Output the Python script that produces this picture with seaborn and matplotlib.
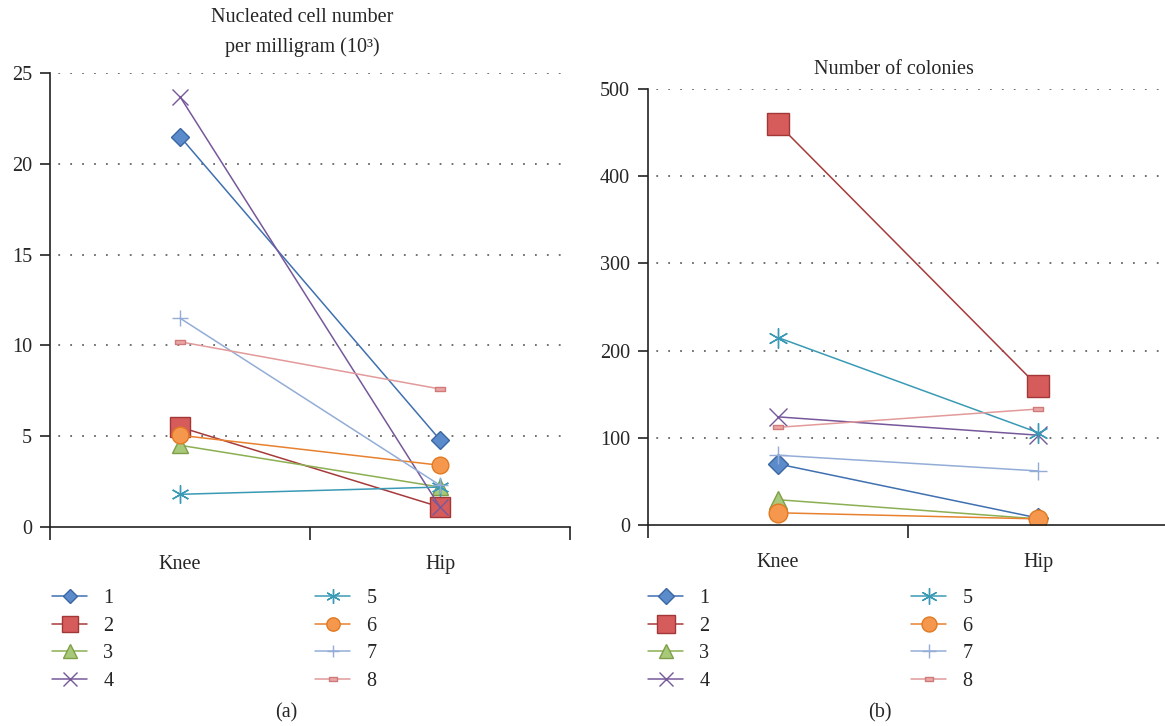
import matplotlib
matplotlib.use("Agg")
import matplotlib.pyplot as plt
import seaborn as sns
import pandas as pd
from matplotlib.path import Path

# Datos
sitios = ["Knee", "Hip"]
series = ["1", "2", "3", "4", "5", "6", "7", "8"]
celulas_knee = [21.5, 5.5, 4.5, 23.7, 1.8, 5.05, 11.5, 10.2]
celulas_hip = [4.8, 1.1, 2.2, 1.1, 2.2, 3.4, 2.3, 7.6]
colonias_knee = [70, 460, 29, 124, 215, 14, 80, 112]
colonias_hip = [8, 159, 7, 103, 106, 7, 62, 133]

# Estilo de cada serie (linea, relleno, borde, marcador, tamano)
rect = Path([(-1, -0.4), (1, -0.4), (1, 0.4), (-1, 0.4), (-1, -0.4)],
            [Path.MOVETO, Path.LINETO, Path.LINETO, Path.LINETO, Path.CLOSEPOLY])
asterisco = (6, 2, 0)
estilos = [
    ("#3F70B0", "#5B8BCB", "#3A67A3", "D", 9),
    ("#A63A3A", "#D65C5C", "#A33636", "s", 14),
    ("#8BAF52", "#A9C97A", "#7E9E48", "^", 12),
    ("#76589A", "#76589A", "#76589A", "x", 12),
    ("#3A9AB5", "#3A9AB5", "#3A9AB5", asterisco, 13),
    ("#E8812F", "#F5984E", "#E07A22", "o", 12),
    ("#93ADD6", "#93ADD6", "#93ADD6", "+", 11),
    ("#E29A9A", "#EBA6A6", "#D07A7A", rect, 7),
]

FS = 14.5
sns.set_theme(style="white")
plt.rcParams["font.family"] = ["Liberation Serif", "DejaVu Serif"]
plt.rcParams["font.size"] = FS

fig = plt.figure(figsize=(11.65, 7.26), dpi=100)
W, H = 1165, 726
ax1 = fig.add_axes([50 / W, (H - 527) / H, 520 / W, (527 - 73) / H])
ax2 = fig.add_axes([648 / W, (H - 525) / H, 520 / W, (525 - 89) / H])


def dibujar(ax, knee, hip, escala, ymax, paso):
    for i, s in enumerate(series):
        linea, relleno, borde, marcador, tam = estilos[i]
        df = pd.DataFrame({"sitio": sitios, "valor": [knee[i], hip[i]]})
        sns.lineplot(data=df, x="sitio", y="valor", ax=ax, color=linea,
                     marker=marcador, markersize=tam * escala,
                     markerfacecolor=relleno, markeredgecolor=borde,
                     markeredgewidth=1.0, linewidth=1.1, label=s,
                     legend=False, sort=False)
    ax.set_xlim(-0.5, 1.5)
    ax.set_ylim(0, ymax)
    ax.set_yticks(range(0, ymax + 1, paso))
    ax.set_xticks([-0.5, 0.5, 1.5])
    ax.set_xticklabels([])
    ax.set_xticks([0, 1], sitios, minor=True)
    ax.tick_params(axis="x", which="major", direction="out", length=9,
                   width=1.2, bottom=True, color="#222222")
    ax.tick_params(axis="x", which="minor", length=0, pad=20, labelsize=FS)
    ax.tick_params(axis="y", direction="out", length=7, width=1.2, left=True,
                   pad=6, labelsize=FS, color="#222222")
    ax.set_xlabel("")
    ax.set_ylabel("")
    for y in range(paso, ymax + 1, paso):
        ax.axhline(y, color="#666666", linewidth=1.3,
                   linestyle=(2, (1, 5.6)), zorder=0)
    sns.despine(ax=ax, top=True, right=True)
    for lado in ["left", "bottom"]:
        ax.spines[lado].set_color("#222222")
        ax.spines[lado].set_linewidth(1.2)
    ax.set_facecolor("white")


dibujar(ax1, celulas_knee, celulas_hip, 1.0, 25, 5)
dibujar(ax2, colonias_knee, colonias_hip, 1.12, 500, 100)

for ax, x0 in [(ax1, 34), (ax2, 630)]:
    h, l = ax.get_legend_handles_labels()
    ax.legend(h, l, ncol=2, loc="upper left", frameon=False,
              bbox_to_anchor=(x0 / W, 1 - 571 / H), bbox_transform=fig.transFigure,
              fontsize=FS, markerscale=0.8, handlelength=1.75,
              handletextpad=0.8, columnspacing=10.0, labelspacing=0.42)

fig.text(302 / W, 1 - 18 / H, "Nucleated cell number", ha="center", va="center",
         fontsize=FS)
fig.text(302 / W, 1 - 47 / H, "per milligram (10³)", ha="center", va="center",
         fontsize=FS)
fig.text(894 / W, 1 - 69 / H, "Number of colonies", ha="center", va="center",
         fontsize=FS)
fig.text(286 / W, 1 - 713 / H, "(a)", ha="center", va="center", fontsize=FS)
fig.text(880 / W, 1 - 713 / H, "(b)", ha="center", va="center", fontsize=FS)

fig.savefig("out.png", dpi=100, facecolor="white")
